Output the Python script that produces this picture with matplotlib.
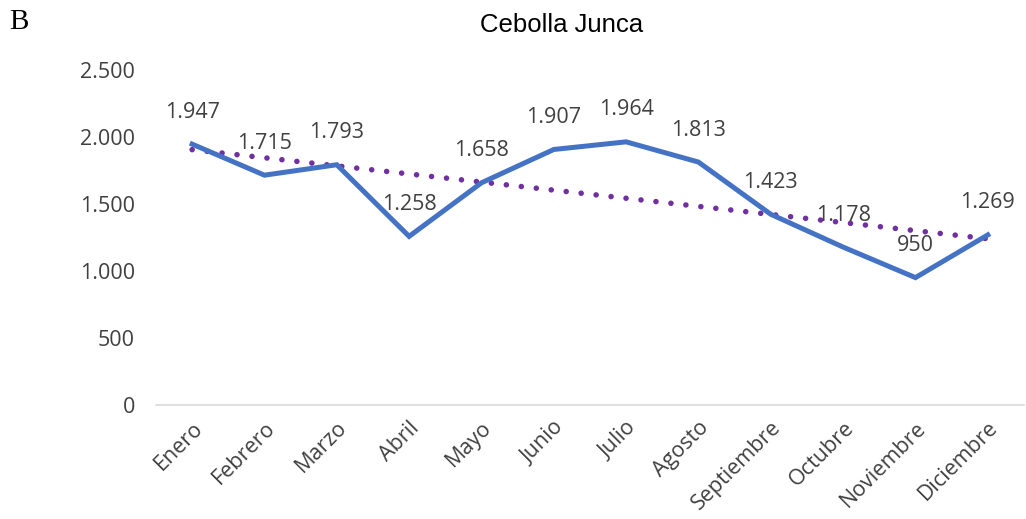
import numpy as np
import matplotlib
matplotlib.use("Agg")
import matplotlib.pyplot as plt

meses = ["Enero", "Febrero", "Marzo", "Abril", "Mayo", "Junio", "Julio",
         "Agosto", "Septiembre", "Octubre", "Noviembre", "Diciembre"]
valores = [1947, 1715, 1793, 1258, 1658, 1907, 1964, 1813, 1423, 1178, 950, 1269]
yticks = [0, 500, 1000, 1500, 2000, 2500]

def fmt(v):
    return "{:,}".format(v).replace(",", ".")

fig = plt.figure(figsize=(10.26, 5.19), dpi=100)
ax = fig.add_axes([0.152, 0.22, 0.846, 0.645])

x = np.arange(len(meses))
ax.plot(x, valores, color="#4472C4", lw=3.6, solid_joinstyle="miter", zorder=3)

# linear trend line
m, b = np.polyfit(x, valores, 1)
ax.plot(x, m * x + b, color="#7030A0", lw=4, ls=(0, (0.01, 2.7)),
        dash_capstyle="round", zorder=2)

for xi, v in zip(x, valores):
    ax.annotate(fmt(v), (xi, v), xytext=(0, 23), textcoords="offset points",
                ha="center", va="center", fontsize=15.5, color="#404040",
                family="Open Sans", zorder=4)

ax.set_xlim(-0.5, len(meses) - 0.5)
ax.set_ylim(0, 2500)
ax.set_yticks(yticks)
ax.set_yticklabels([fmt(t) for t in yticks], family="Open Sans", fontsize=15.5,
                   color="#404040")
ax.set_xticks(x)
ax.set_xticklabels(meses, rotation=45, ha="right", rotation_mode="anchor",
                   family="Open Sans", fontsize=15.5, color="#404040")
ax.tick_params(axis="both", length=0)
ax.tick_params(axis="y", pad=15)
ax.tick_params(axis="x", pad=9)

for s in ["top", "right", "left"]:
    ax.spines[s].set_visible(False)
ax.spines["bottom"].set_color("#D9D9D9")
ax.spines["bottom"].set_linewidth(1.2)

fig.text(0.547, 0.952, "Cebolla Junca", ha="center", va="center",
         family="Liberation Sans", fontsize=18.5, color="black")
fig.text(0.009, 0.958, "B", ha="left", va="center", family="Liberation Serif",
         fontsize=21, color="black")

fig.savefig("out.png", dpi=100)
